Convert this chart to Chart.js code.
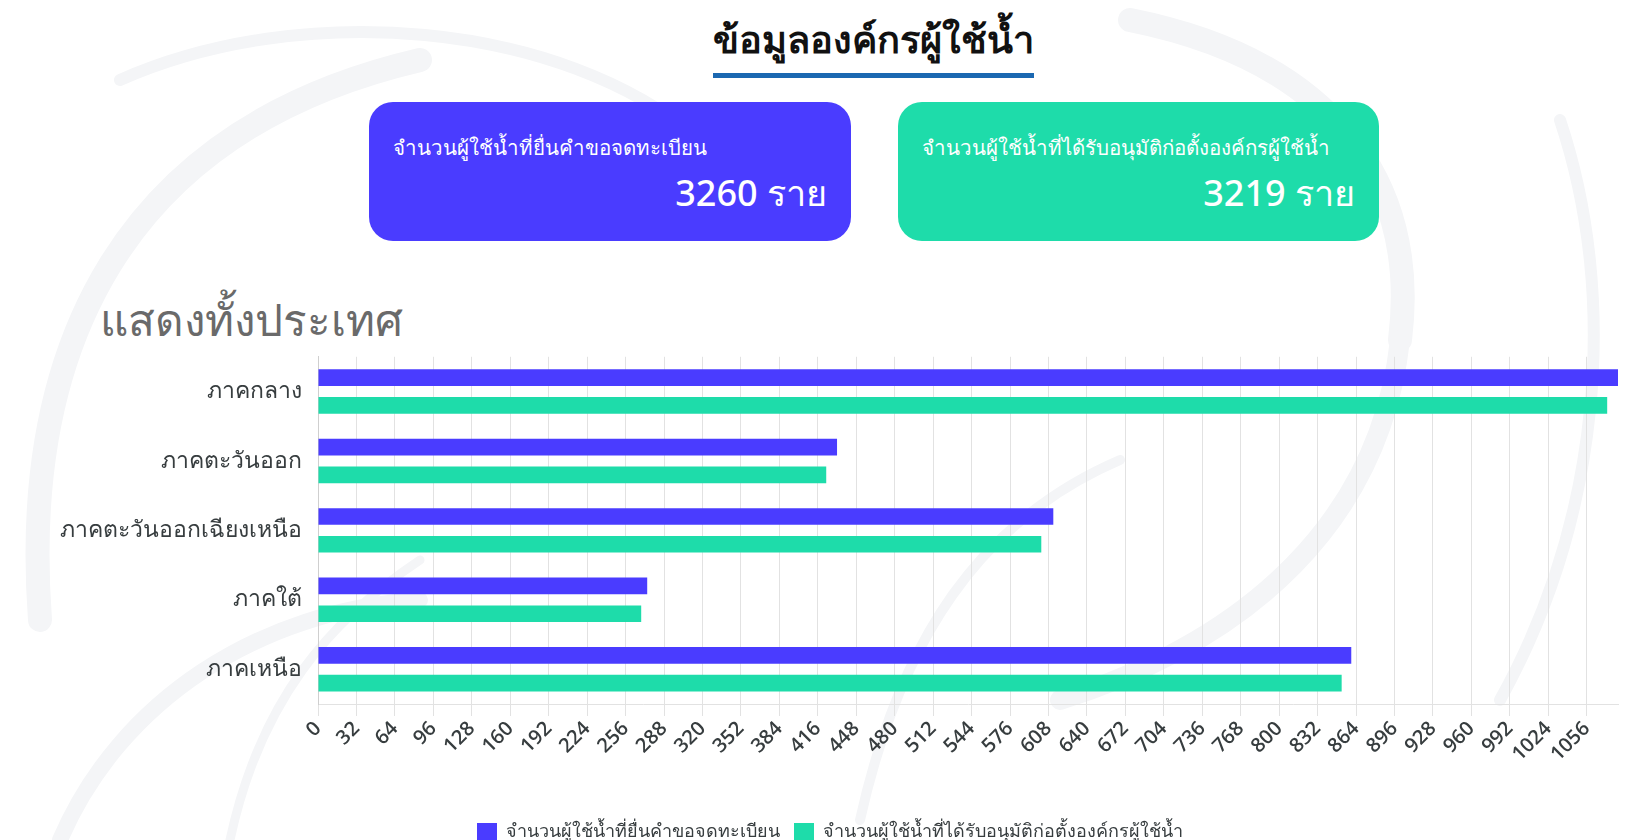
<!DOCTYPE html>
<html>
<head>
<meta charset="utf-8">
<script src="https://cdn.jsdelivr.net/npm/chart.js@4.4.1/dist/chart.umd.min.js"></script>
<style>
  html, body { margin:0; padding:0; width:1633px; height:840px; overflow:hidden; background:#fff;
    font-family: "Noto Sans", "Open Sans", sans-serif; }
  #bg { position:absolute; left:0; top:0; }
  .title { position:absolute; left:673px; width:401px; top:9px; text-align:center; font-size:38px; font-weight:600; color:#111; white-space:nowrap; }
  .uline { position:absolute; left:713px; top:73px; width:321px; height:5px; background:#1b68b1; }
  .card { position:absolute; top:102px; height:139px; border-radius:24px; color:#fff; }
  .card .lab { position:absolute; left:24px; top:29px; font-size:20.5px; font-weight:500; white-space:nowrap; }
  .card .num { position:absolute; right:24px; top:63px; font-size:36px; font-weight:500; white-space:nowrap; }
  .sub { position:absolute; left:100px; top:285px; font-size:44px; font-weight:500; color:#6a6a6a; white-space:nowrap; }
  #wrap { position:absolute; left:13px; top:335px; width:1633px; height:516px; }
</style>
</head>
<body>
<svg id="bg" width="1633" height="840" viewBox="0 0 1633 840">
  <g fill="none" stroke="#f4f5f7" stroke-linecap="round">
    <path d="M40 620 C 20 350, 120 130, 420 60" stroke-width="24"/>
    <path d="M120 80 C 300 0, 560 20, 700 140" stroke-width="12"/>
    <path d="M60 840 C 120 700, 260 610, 420 600" stroke-width="16"/>
    <path d="M230 840 C 260 700, 330 620, 420 560" stroke-width="9"/>
    <path d="M1130 20 C 1330 60, 1420 180, 1400 340" stroke-width="24"/>
    <path d="M1400 340 C 1380 520, 1250 640, 1060 700" stroke-width="20"/>
    <path d="M860 820 C 900 640, 980 520, 1120 460" stroke-width="10"/>
    <path d="M1560 120 C 1620 300, 1600 520, 1500 700" stroke-width="12"/>
  </g>
</svg>

<div class="title">ข้อมูลองค์กรผู้ใช้น้ำ</div>
<div class="uline"></div>

<div class="card" style="left:369px; width:482px; background:#4a3cff;">
  <div class="lab" id="lab1"></div>
  <div class="num" id="num1"></div>
</div>
<div class="card" style="left:898px; width:481px; background:#1edcaa;">
  <div class="lab" id="lab2"></div>
  <div class="num" id="num2"></div>
</div>

<div class="sub">แสดงทั้งประเทศ</div>

<div id="wrap"><canvas id="c"></canvas></div>

<script>
// ---- data ----
const regions = ["ภาคกลาง", "ภาคตะวันออก", "ภาคตะวันออกเฉียงเหนือ", "ภาคใต้", "ภาคเหนือ"];
const seriesNames = ["จำนวนผู้ใช้น้ำที่ยื่นคำขอจดทะเบียน", "จำนวนผู้ใช้น้ำที่ได้รับอนุมัติก่อตั้งองค์กรผู้ใช้น้ำ"];
const registered = [1082, 432, 612, 274, 860];
const approved = [1073, 423, 602, 269, 852];
const totals = [3260, 3219];
const unitLabel = "ราย";
const tickStep = 32;
const axisMax = 1082;

document.getElementById('lab1').textContent = seriesNames[0];
document.getElementById('lab2').textContent = seriesNames[1];
document.getElementById('num1').textContent = totals[0] + " " + unitLabel;
document.getElementById('num2').textContent = totals[1] + " " + unitLabel;

const txt = "#373d3f";
new Chart(document.getElementById('c'), {
  type: 'bar',
  data: {
    labels: regions,
    datasets: [
      { label: seriesNames[0], data: registered, backgroundColor: "#4a3cff", categoryPercentage: 0.8, barPercentage: 0.6 },
      { label: seriesNames[1], data: approved, backgroundColor: "#1edcaa", categoryPercentage: 0.8, barPercentage: 0.6 }
    ]
  },
  options: {
    indexAxis: 'y',
    responsive: true,
    maintainAspectRatio: false,
    animation: false,
    layout: { padding: { top: 11, right: 28, left: 29, bottom: 0 } },
    plugins: {
      tooltip: { enabled: false },
      legend: {
        position: 'bottom',
        labels: { boxWidth: 20, boxHeight: 18, padding: 14, color: txt, font: { family: "'Noto Sans', sans-serif", size: 18 } }
      }
    },
    scales: {
      x: {
        min: 0, max: axisMax,
        ticks: { stepSize: tickStep, includeBounds: false, minRotation: 45, maxRotation: 45, color: txt, padding: 1,
                 callback: v => String(v),
                 font: { family: "'Open Sans', sans-serif", size: 20, weight: '600' } },
        grid: { color: "#e2e2e2", tickLength: 12, drawTicks: true },
        border: { color: "#e2e2e2" },
        afterFit: s => { s.height = 105; }
      },
      y: {
        grid: { display: false },
        border: { color: "#cfcfcf" },
        ticks: { color: txt, padding: 8, font: { family: "'Noto Sans', sans-serif", size: 23 } },
        afterFit: s => { s.width = 276; }
      }
    }
  }
});
</script>
</body>
</html>
